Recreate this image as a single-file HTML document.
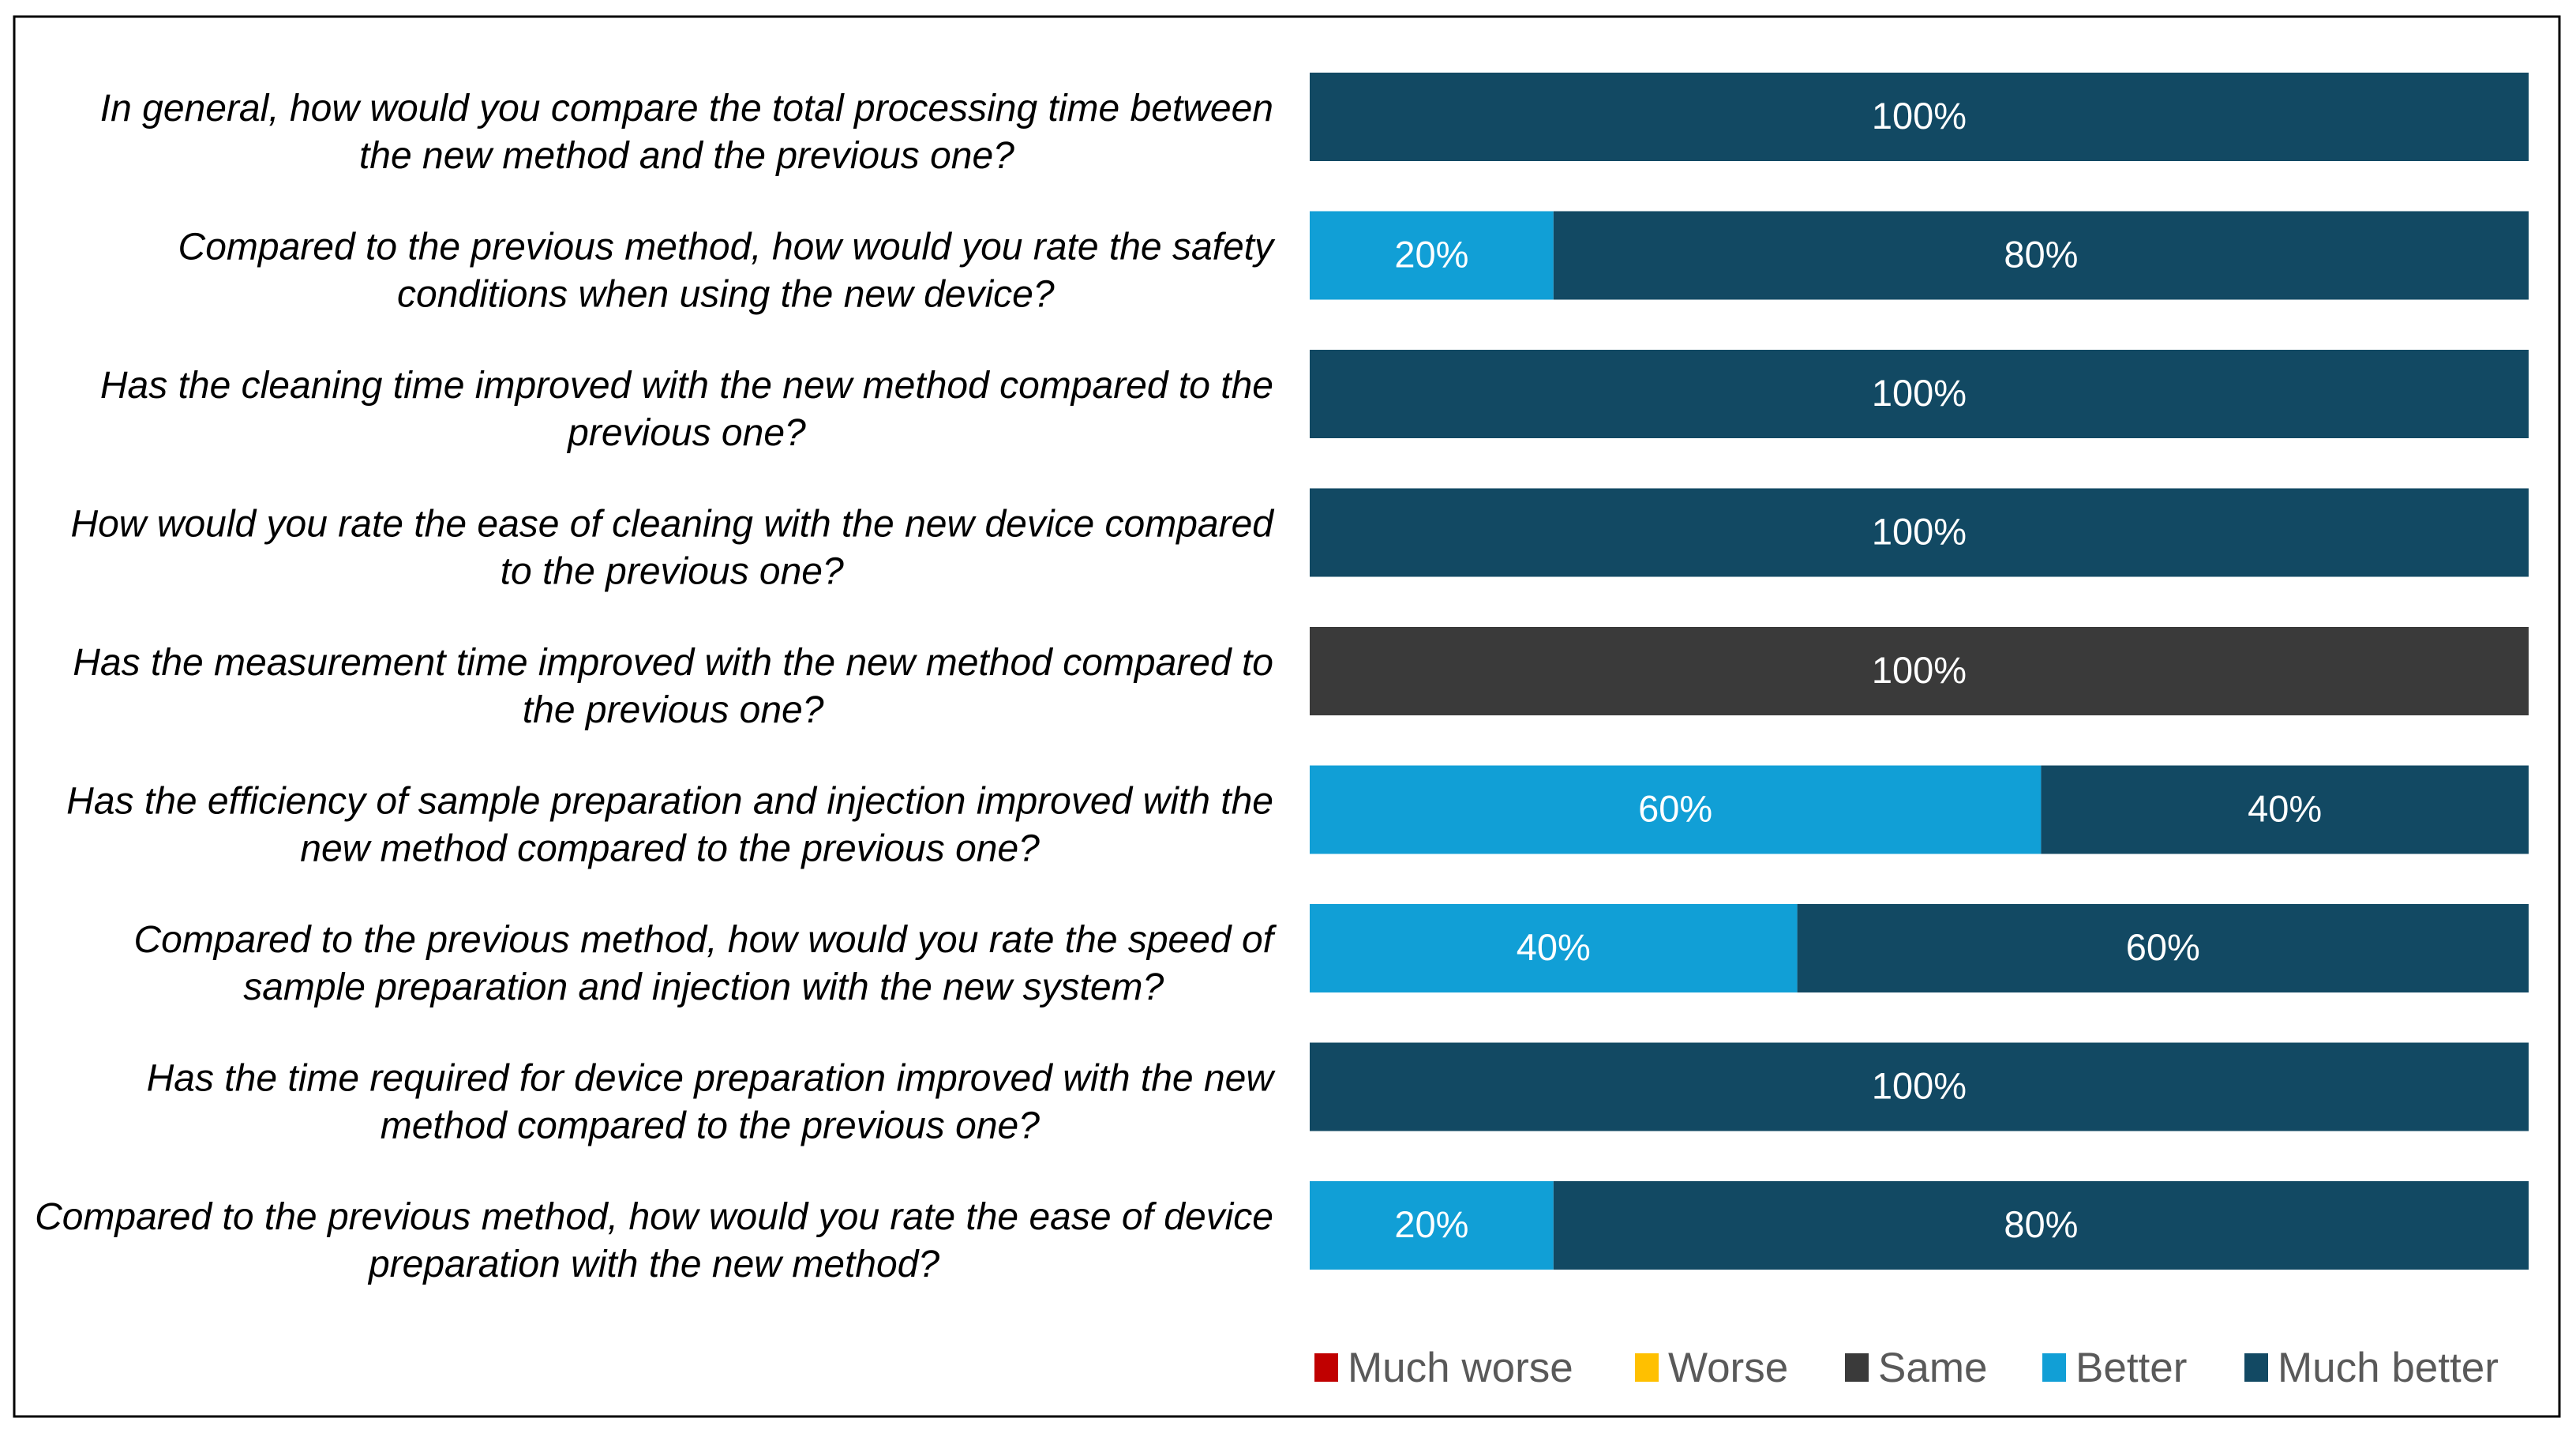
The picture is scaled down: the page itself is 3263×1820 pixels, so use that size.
<!DOCTYPE html>
<html><head><meta charset="utf-8"><style>
body{margin:0;background:#fff;width:3263px;height:1815px;overflow:hidden;font-family:"Liberation Sans",sans-serif}
</style></head><body>
<svg width="3263" height="1815">
<rect x="18" y="21" width="3224" height="1773" fill="#fff" stroke="#000" stroke-width="3"/>
<g id="labels"></g><g id="bars"></g><g id="legend"></g>
</svg>
<script>
const questions=[
["In general, how would you compare the total processing time between","the new method and the previous one?"],
["Compared to the previous method, how would you rate the safety","conditions when using the new device?"],
["Has the cleaning time improved with the new method compared to the","previous one?"],
["How would you rate the ease of cleaning with the new device compared","to the previous one?"],
["Has the measurement time improved with the new method compared to","the previous one?"],
["Has the efficiency of sample preparation and injection improved with the","new method compared to the previous one?"],
["Compared to the previous method, how would you rate the speed of","sample preparation and injection with the new system?"],
["Has the time required for device preparation improved with the new","method compared to the previous one?"],
["Compared to the previous method, how would you rate the ease of device","preparation with the new method?"]];
const seriesNames=["Much worse","Worse","Same","Better","Much better"];
const muchWorse=[0,0,0,0,0,0,0,0,0];
const worse=[0,0,0,0,0,0,0,0,0];
const same=[0,0,0,0,100,0,0,0,0];
const better=[0,20,0,0,0,60,40,0,20];
const muchBetter=[100,80,100,100,0,40,60,100,80];
const colors=["#c00000","#ffc000","#3a3a3a","#119fd6","#124963"];
const NS="http://www.w3.org/2000/svg";
const x0=1659,x1=3203,y0=92,pitch=175.5,bh=112;
const xs=v=>x0+(x1-x0)*v/100;
const yr=i=>y0+i*pitch;
function mk(t,a,p){const e=document.createElementNS(NS,t);for(const k in a)e.setAttribute(k,a[k]);p.appendChild(e);return e;}
const L=document.getElementById('labels'),B=document.getElementById('bars'),G=document.getElementById('legend');
const series=[muchWorse,worse,same,better,muchBetter];
questions.forEach((q,i)=>{
 const c=yr(i)+bh/2;
 const ts=q.map((ln,j)=>{
  const t=mk('text',{x:0,y:c+(j===0?5:65),'text-anchor':'middle','font-size':48,'font-style':'italic',fill:'#000'},L);
  
  
  t.textContent=ln;return t;});
 const mw=Math.max(...ts.map(t=>t.getComputedTextLength()));
 ts.forEach(t=>t.setAttribute('x',1613-mw/2));
 let acc=0;
 series.forEach((s,k)=>{
  const v=s[i];if(!v)return;
  const r=mk('rect',{x:xs(acc),y:yr(i),width:xs(acc+v)-xs(acc),height:bh,fill:colors[k]},B);
  
  
  const t=mk('text',{x:(xs(acc)+xs(acc+v))/2,y:c+15,'text-anchor':'middle','font-size':47,fill:'#fff'},B);
  
  
  t.textContent=v+'%';
  acc+=v;});
});
const legX=[1665,2071,2337,2587,2843];
seriesNames.forEach((n,k)=>{
 const r=mk('rect',{x:legX[k],y:1714,width:30,height:36,fill:colors[k]},G);
 
 
 const t=mk('text',{x:legX[k]+42,y:1750,'font-size':53,fill:'#595959'},G);
 
 
 t.textContent=n;});
</script>
</body></html>
